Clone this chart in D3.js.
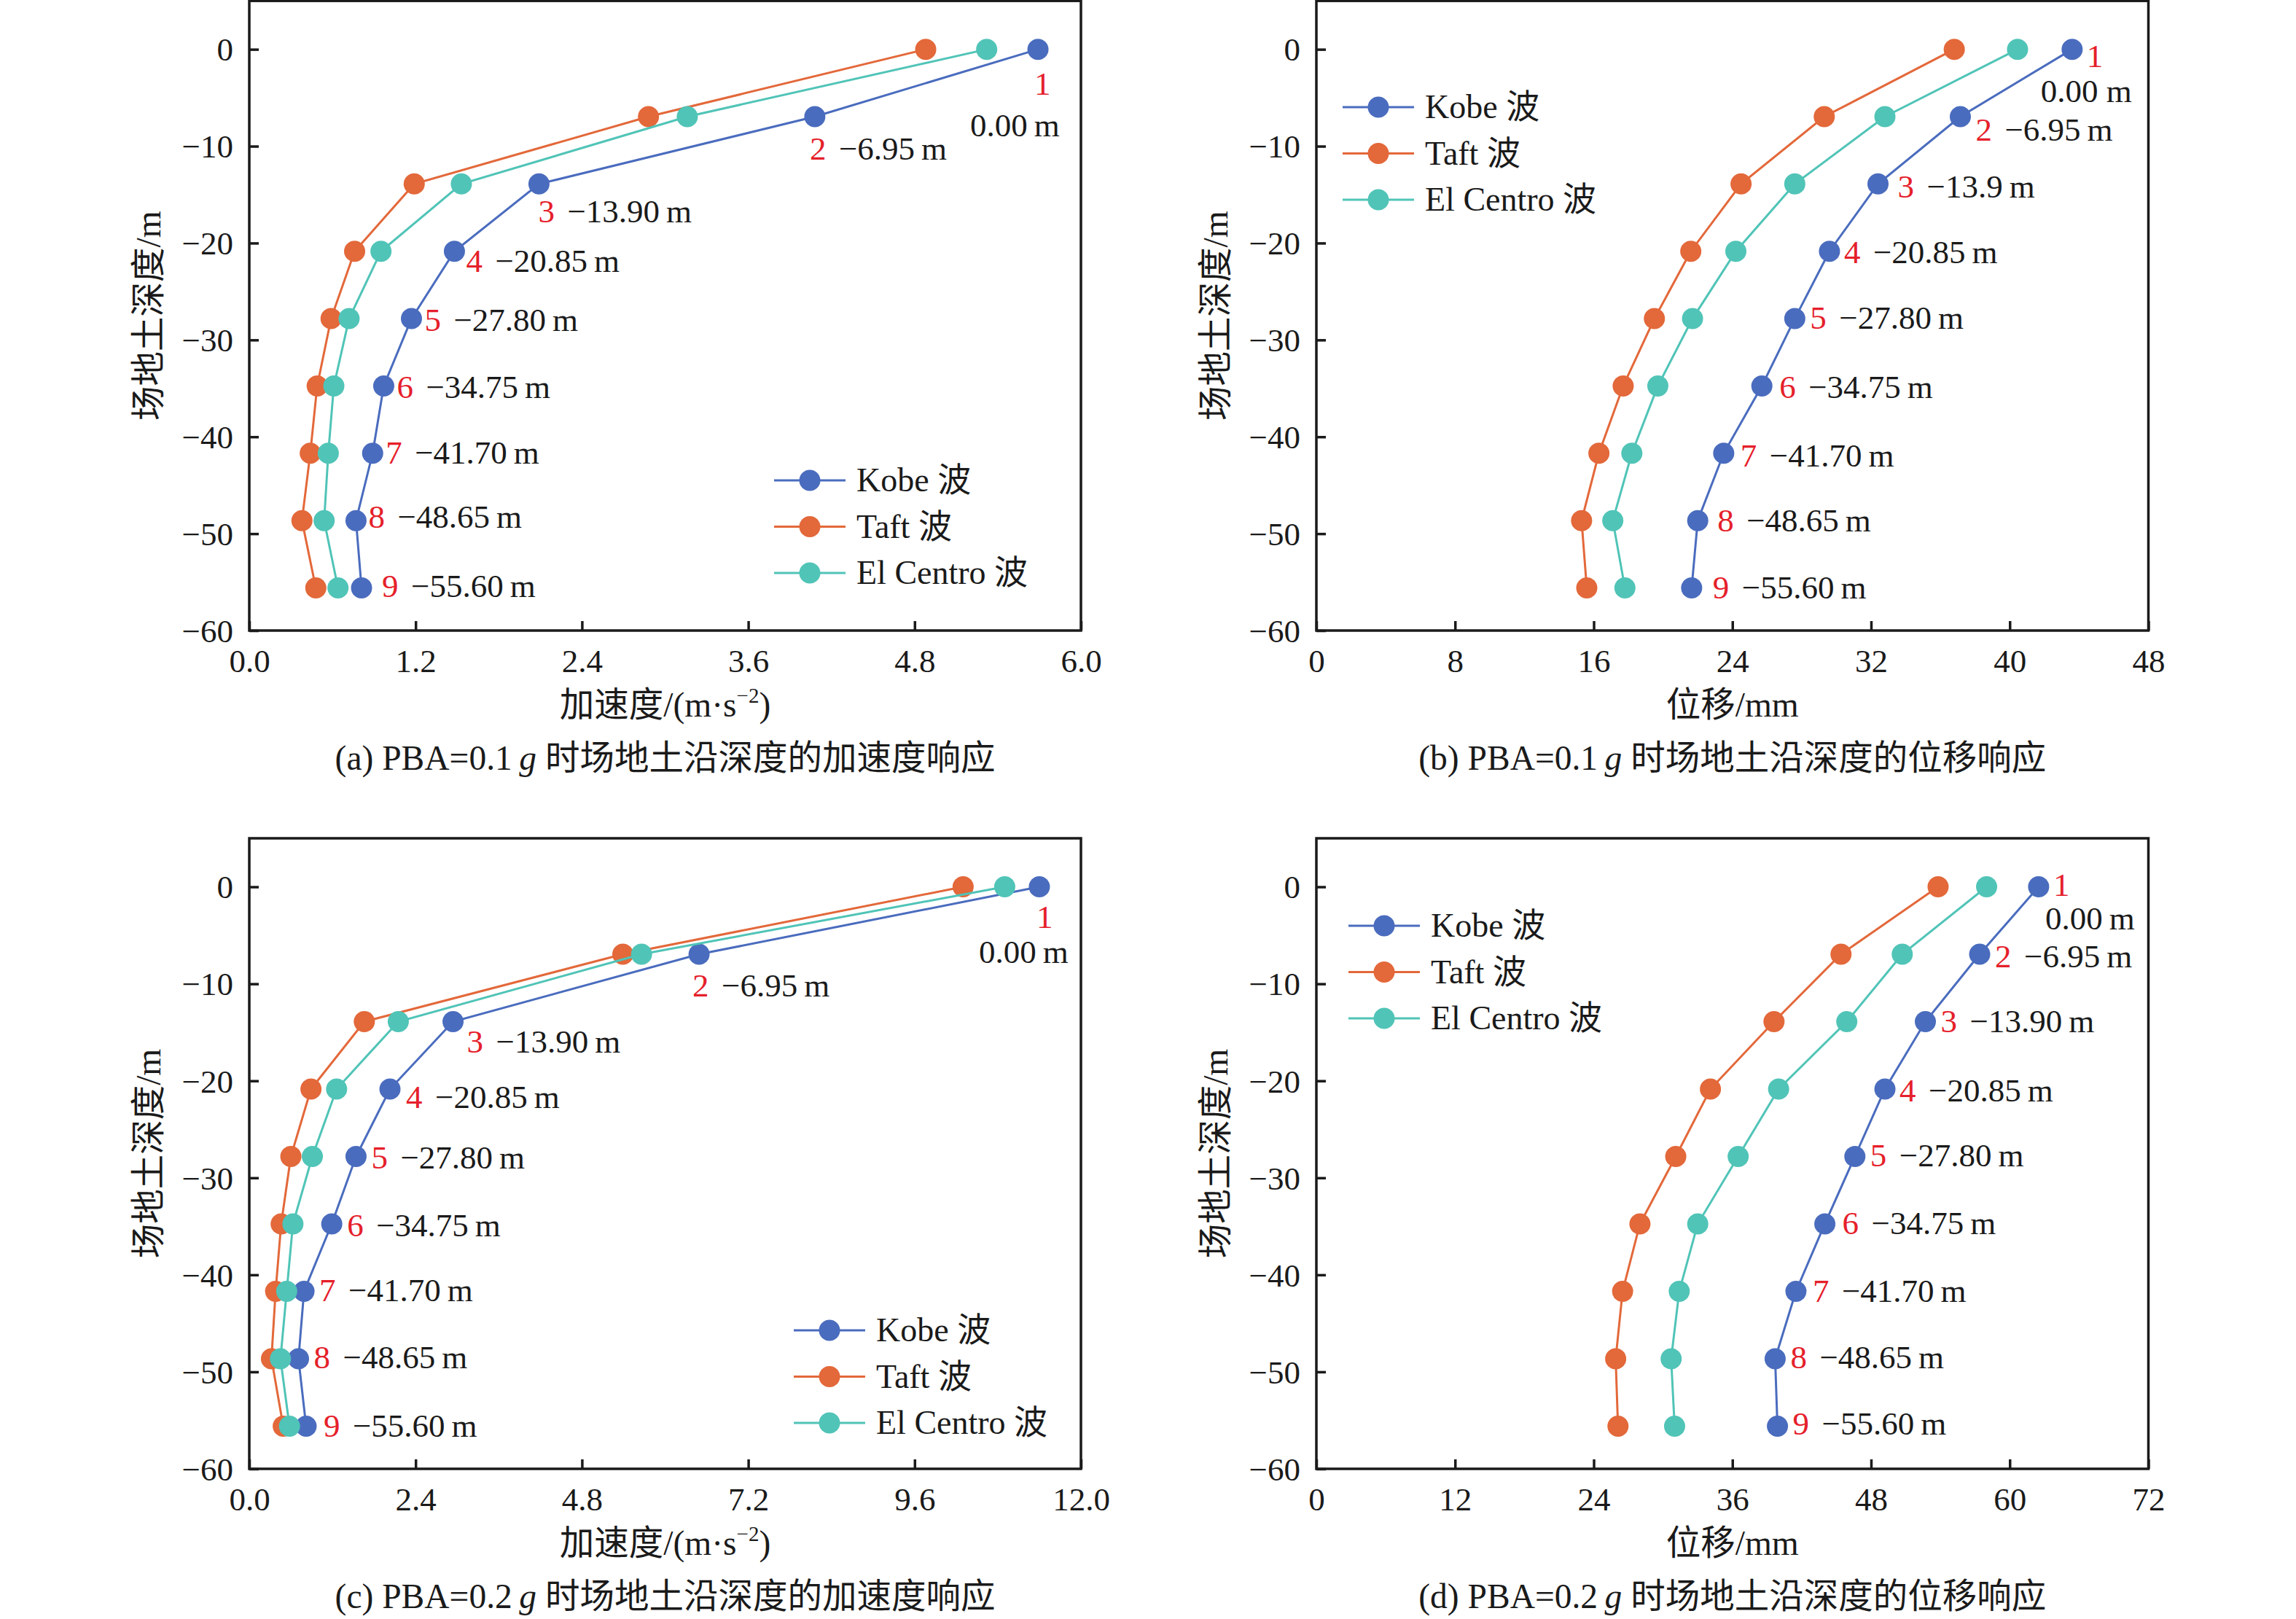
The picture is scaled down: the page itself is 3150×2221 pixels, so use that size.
<!DOCTYPE html>
<html><head><meta charset="utf-8">
<script src="https://cdn.jsdelivr.net/npm/d3@7/dist/d3.min.js"></script>
<style>body{margin:0;background:#fff;} svg{display:block;}</style>
</head><body>
<svg id="chart" width="3150" height="2221"></svg>
<script>
// ---------- data ----------
const depths = [0, -6.95, -13.9, -20.85, -27.8, -34.75, -41.7, -48.65, -55.6];
const seriesNames = ["Kobe 波", "Taft 波", "El Centro 波"];

const kobeA = [5.69, 4.08, 2.09, 1.48, 1.17, 0.97, 0.89, 0.77, 0.81];
const taftA = [4.88, 2.88, 1.19, 0.76, 0.59, 0.49, 0.44, 0.38, 0.48];
const elA   = [5.32, 3.16, 1.53, 0.95, 0.72, 0.61, 0.57, 0.54, 0.64];

const kobeB = [43.6, 37.15, 32.4, 29.6, 27.6, 25.7, 23.5, 22.0, 21.65];
const taftB = [36.8, 29.3, 24.5, 21.6, 19.5, 17.7, 16.3, 15.3, 15.6];
const elB   = [40.45, 32.8, 27.6, 24.2, 21.7, 19.7, 18.2, 17.1, 17.8];

const kobeC = [11.40, 6.49, 2.94, 2.03, 1.54, 1.19, 0.79, 0.71, 0.82];
const taftC = [10.30, 5.39, 1.66, 0.89, 0.60, 0.46, 0.38, 0.32, 0.49];
const elC   = [10.90, 5.66, 2.15, 1.26, 0.91, 0.63, 0.54, 0.45, 0.58];

const kobeD = [62.5, 57.4, 52.7, 49.2, 46.6, 44.0, 41.5, 39.7, 39.9];
const taftD = [53.8, 45.4, 39.6, 34.1, 31.1, 28.0, 26.5, 25.9, 26.1];
const elD   = [58.0, 50.7, 45.9, 40.0, 36.5, 33.0, 31.4, 30.7, 31.0];

const pointNums = ["1","2","3","4","5","6","7","8","9"];
const depthLabels = ["0.00\u2009m","\u22126.95\u2009m","\u221213.90\u2009m","\u221220.85\u2009m","\u221227.80\u2009m","\u221234.75\u2009m","\u221241.70\u2009m","\u221248.65\u2009m","\u221255.60\u2009m"];
const depthLabelsB = ["0.00 m","\u22126.95\u2009m","\u221213.9\u2009m","\u221220.85\u2009m","\u221227.80\u2009m","\u221234.75\u2009m","\u221241.70\u2009m","\u221248.65\u2009m","\u221255.60\u2009m"];

const xTicksA = [0, 1.2, 2.4, 3.6, 4.8, 6.0];
const xTicksB = [0, 8, 16, 24, 32, 40, 48];
const xTicksC = [0, 2.4, 4.8, 7.2, 9.6, 12.0];
const xTicksD = [0, 12, 24, 36, 48, 60, 72];
const yTicks = [0, -10, -20, -30, -40, -50, -60];

// ---------- style / layout ----------
const colors = ["#4a6cbe", "#e3683a", "#50c4b7"];
const red = "#e5202a";
const LATIN = "'Liberation Serif','Times New Roman',serif";
const MIXED = "'Liberation Serif','Noto Sans CJK SC',serif";
const FS = 45;
const FSM = 47.5;

const panels = [
  {x0:342, x1:1483, y0:1.2, y1:865, xmax:6, ticks:xTicksA, fmt:d3.format(".1f"),
   series:[kobeA,taftA,elA], labels:depthLabels, xtitle:"acc", cap:["(a) PBA=0.1\u2009","g"," 时场地土沿深度的加速度响应"],
   legend:{x:1062, y:659},
   off:[[-5,62],[-7,59],[-1,53],[16,28],[18,17],[18,17],[18,14],[17,10],[28,12]], off0:[-93,119]},
  {x0:1806, x1:2947.5, y0:1.2, y1:865, xmax:48, ticks:xTicksB, fmt:d3.format("d"),
   series:[kobeB,taftB,elB], labels:depthLabelsB, xtitle:"disp", cap:["(b) PBA=0.1\u2009","g"," 时场地土沿深度的位移响应"],
   legend:{x:1842, y:147},
   off:[[20,24],[21,33],[27,19],[20,16],[21,14],[24,17],[23,18],[27,15],[29,14]], off0:[-43,72]},
  {x0:342, x1:1483, y0:1150, y1:2015, xmax:12, ticks:xTicksC, fmt:d3.format(".1f"),
   series:[kobeC,taftC,elC], labels:depthLabels, xtitle:"acc", cap:["(c) PBA=0.2\u2009","g"," 时场地土沿深度的加速度响应"],
   legend:{x:1089, y:1825},
   off:[[-4,56],[-9,58],[19,42],[22,26],[21,17],[21,17],[21,14],[21,13],[24,15]], off0:[-83,104]},
  {x0:1806, x1:2947.5, y0:1150, y1:2015, xmax:72, ticks:xTicksD, fmt:d3.format("d"),
   series:[kobeD,taftD,elD], labels:depthLabels, xtitle:"disp", cap:["(d) PBA=0.2\u2009","g"," 时场地土沿深度的位移响应"],
   legend:{x:1850, y:1270},
   off:[[20,12],[21,18],[21,14],[20,17],[21,14],[24,14],[23,15],[21,13],[21,12]], off0:[9,58]}
];

const svg = d3.select("#chart");
svg.append("rect").attr("width",3150).attr("height",2221).attr("fill","#fff");

panels.forEach(p => {
  const x = d3.scaleLinear().domain([0, p.xmax]).range([p.x0, p.x1]);
  const y = d3.scaleLinear().domain([-60, 5]).range([p.y1, p.y0]);
  const g = svg.append("g");

  // series
  p.series.forEach((vals, si) => {
    const pts = vals.map((v,i) => [v, depths[i]]);
    g.append("path").datum(pts)
      .attr("fill","none").attr("stroke",colors[si]).attr("stroke-width",3)
      .attr("d", d3.line().x(d=>x(d[0])).y(d=>y(d[1])));
    g.selectAll(null).data(pts).enter().append("circle")
      .attr("cx", d=>x(d[0])).attr("cy", d=>y(d[1])).attr("r", 14.5)
      .attr("fill", colors[si]);
  });

  // annotations relative to Kobe points
  const kobe = p.series[0];
  kobe.forEach((v,i) => {
    const px = x(v), py = y(depths[i]);
    const o = p.off[i];
    g.append("text").attr("x", px+o[0]).attr("y", py+o[1])
      .attr("font-family", LATIN).attr("font-size", FS).attr("fill", red).text(pointNums[i]);
    if (i === 0) {
      g.append("text").attr("x", px+p.off0[0]).attr("y", py+p.off0[1])
        .attr("font-family", LATIN).attr("font-size", FS).attr("fill", "#1a1a1a").text(p.labels[i]);
    } else {
      g.append("text").attr("x", px+o[0]+40).attr("y", py+o[1])
        .attr("font-family", LATIN).attr("font-size", FS).attr("fill", "#1a1a1a").text(p.labels[i]);
    }
  });

  // axes
  const xAxis = g.append("g").attr("transform",`translate(0,${p.y1})`)
    .call(d3.axisBottom(x).tickValues(p.ticks).tickFormat(p.fmt).tickSizeInner(-13).tickSizeOuter(0).tickPadding(25));
  const yAxis = g.append("g").attr("transform",`translate(${p.x0},0)`)
    .call(d3.axisLeft(y).tickValues(yTicks).tickFormat(d3.format("d")).tickSizeInner(-13).tickSizeOuter(0).tickPadding(22));
  [xAxis, yAxis].forEach(a => {
    a.select(".domain").remove();
    a.selectAll(".tick line").attr("stroke","#1a1a1a").attr("stroke-width",3.5);
    a.selectAll(".tick text").attr("font-family", LATIN).attr("font-size", FS).attr("fill","#1a1a1a");
  });
  xAxis.selectAll(".tick text").attr("dy","0.71em");
  yAxis.selectAll(".tick text").attr("dy","0.34em");
  // frame
  g.append("rect").attr("x",p.x0).attr("y",p.y0).attr("width",p.x1-p.x0).attr("height",p.y1-p.y0)
    .attr("fill","none").attr("stroke","#1a1a1a").attr("stroke-width",3.5);

  // y title
  const cy = (p.y0+p.y1)/2, cx = p.x0-138;
  g.append("text").attr("transform",`translate(${cx},${cy}) rotate(-90)`)
    .attr("text-anchor","middle").attr("dominant-baseline","central")
    .attr("font-family", MIXED).attr("font-size", FSM).attr("fill","#1a1a1a")
    .text("场地土深度/m");

  // x title
  const mx = (p.x0+p.x1)/2;
  const xt = g.append("text").attr("x", mx).attr("y", p.y1+118).attr("text-anchor","middle")
    .attr("font-family", MIXED).attr("font-size", FSM).attr("fill","#1a1a1a");
  if (p.xtitle === "acc") {
    xt.append("tspan").text("加速度/(m·s");
    xt.append("tspan").attr("font-size",29).attr("dy",-19).text("\u22122");
    xt.append("tspan").attr("dy",19).text(")");
  } else {
    xt.text("位移/mm");
  }

  // caption
  const ct = g.append("text").attr("x", mx).attr("y", p.y1+191).attr("text-anchor","middle")
    .attr("font-family", MIXED).attr("font-size", FSM).attr("fill","#1a1a1a");
  ct.append("tspan").text(p.cap[0]);
  ct.append("tspan").attr("font-style","italic").text(p.cap[1]);
  ct.append("tspan").text(p.cap[2]);

  // legend
  const lg = g.append("g");
  seriesNames.forEach((nm, si) => {
    const ly = p.legend.y + si*63.5;
    lg.append("line").attr("x1",p.legend.x).attr("x2",p.legend.x+98).attr("y1",ly).attr("y2",ly)
      .attr("stroke",colors[si]).attr("stroke-width",3);
    lg.append("circle").attr("cx",p.legend.x+49).attr("cy",ly).attr("r",14.5).attr("fill",colors[si]);
    lg.append("text").attr("x",p.legend.x+113).attr("y",ly+15)
      .attr("font-family", MIXED).attr("font-size", 46).attr("fill","#1a1a1a").text(nm);
  });
});
</script>
</body></html>
